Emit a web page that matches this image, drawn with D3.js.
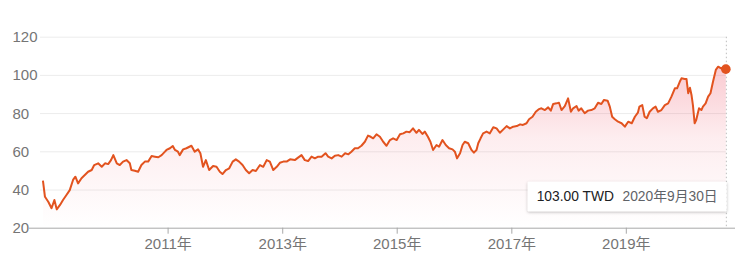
<!DOCTYPE html>
<html><head><meta charset="utf-8">
<script src="https://cdn.jsdelivr.net/npm/d3@7/dist/d3.min.js"></script>
<style>
html,body{margin:0;padding:0;background:#fff;}
svg{display:block;font-family:Arial,"Liberation Sans","Noto Sans CJK SC",sans-serif;}
</style></head>
<body>
<svg id="c" width="740" height="258"></svg>
<script>
const dates = [
"2008-10-28","2008-11-10","2008-12-01","2008-12-22","2009-01-09","2009-01-24","2009-02-14","2009-03-05","2009-03-27","2009-04-17",
"2009-05-08","2009-05-23","2009-06-09","2009-07-01","2009-07-22","2009-08-12","2009-09-04","2009-09-20","2009-10-15","2009-11-07",
"2009-11-28","2009-12-18","2010-01-05","2010-01-20","2010-02-11","2010-03-02","2010-03-23","2010-04-14","2010-05-05","2010-05-15",
"2010-06-06","2010-06-27","2010-07-18","2010-08-09","2010-08-30","2010-09-21","2010-10-12","2010-11-03","2010-11-24","2010-12-15",
"2010-12-25","2011-01-16","2011-02-03","2011-02-17","2011-03-08","2011-03-19","2011-04-10","2011-05-01","2011-06-02","2011-06-23",
"2011-07-14","2011-07-29","2011-08-15","2011-09-02","2011-09-23","2011-10-18","2011-11-09","2011-11-30","2011-12-17","2012-01-08",
"2012-01-29","2012-02-20","2012-03-11","2012-04-01","2012-04-23","2012-05-14","2012-06-04","2012-06-26","2012-07-17","2012-08-12",
"2012-09-02","2012-09-24","2012-10-14","2012-11-05","2012-11-27","2012-12-17","2013-01-08","2013-01-29","2013-02-20","2013-03-22",
"2013-04-12","2013-05-04","2013-05-25","2013-06-15","2013-07-07","2013-07-28","2013-08-18","2013-09-09","2013-10-04","2013-10-21",
"2013-11-12","2013-12-03","2013-12-24","2014-01-15","2014-02-06","2014-02-27","2014-03-18","2014-04-09","2014-04-29","2014-05-21",
"2014-06-12","2014-07-02","2014-07-19","2014-08-04","2014-08-25","2014-09-16","2014-10-07","2014-10-28","2014-11-19","2014-12-09",
"2015-01-01","2015-01-22","2015-02-12","2015-03-04","2015-03-25","2015-04-15","2015-05-07","2015-05-23","2015-06-14","2015-06-29",
"2015-07-19","2015-08-04","2015-08-21","2015-09-12","2015-09-28","2015-10-20","2015-11-10","2015-12-01","2015-12-23","2016-01-07",
"2016-01-21","2016-02-09","2016-02-25","2016-03-10","2016-04-01","2016-04-22","2016-05-07","2016-05-24","2016-06-04","2016-06-19",
"2016-07-05","2016-07-27","2016-08-17","2016-09-08","2016-09-29","2016-10-20","2016-11-11","2016-12-02","2016-12-23","2017-01-13",
"2017-02-05","2017-02-26","2017-03-16","2017-04-08","2017-04-24","2017-05-16","2017-06-06","2017-06-27","2017-07-12","2017-08-03",
"2017-08-24","2017-09-10","2017-09-25","2017-10-16","2017-11-01","2017-11-17","2017-12-08","2017-12-29","2018-01-16","2018-01-30",
"2018-02-21","2018-03-06","2018-03-23","2018-04-14","2018-05-05","2018-05-26","2018-06-17","2018-07-08","2018-07-29","2018-08-15",
"2018-09-07","2018-09-21","2018-10-06","2018-10-23","2018-11-13","2018-12-05","2018-12-26","2019-01-16","2019-02-08","2019-02-28",
"2019-03-19","2019-03-29","2019-04-16","2019-05-01","2019-05-15","2019-06-02","2019-06-23","2019-07-10","2019-07-25","2019-08-16",
"2019-09-07","2019-09-28","2019-10-19","2019-11-10","2019-11-24","2019-12-11","2019-12-22","2020-01-12","2020-01-23","2020-02-03",
"2020-02-14","2020-02-24","2020-03-04","2020-03-15","2020-03-25","2020-04-12","2020-04-27","2020-05-07","2020-05-24","2020-06-09",
"2020-06-24","2020-07-10","2020-07-28","2020-08-12","2020-08-28","2020-09-15","2020-09-30"
];
const prices = [
44.6,36.2,33.6,30.2,34.5,29.6,31.9,34.5,37.1,39.7,
45.0,46.7,43.2,45.9,47.6,49.3,50.2,52.8,53.7,51.9,
53.7,53.3,55.4,58.0,53.7,52.8,54.6,55.4,53.7,50.2,
49.8,49.3,52.8,54.6,54.6,57.5,57.2,56.9,58.0,59.8,
60.7,61.6,62.8,60.7,59.8,58.0,61.0,61.6,62.9,59.8,
61.0,59.0,51.9,55.4,50.2,52.3,51.9,49.3,48.1,50.2,
51.1,54.6,55.8,54.6,52.8,50.2,48.5,50.2,49.7,52.8,
51.9,55.4,54.6,50.2,51.9,54.0,54.6,54.6,55.8,55.4,
56.7,58.0,55.4,54.9,57.2,56.3,57.2,57.2,59.0,57.2,
56.3,57.7,58.0,57.2,59.0,58.4,59.8,61.6,61.6,62.9,
65.0,68.2,67.6,66.8,68.9,67.6,65.0,62.9,65.9,66.8,
65.9,68.9,69.4,70.3,70.0,72.0,69.7,71.2,69.1,70.3,
67.6,65.0,60.7,63.3,62.4,65.9,63.3,61.6,61.0,59.8,
56.3,59.0,63.3,65.0,64.2,60.7,59.3,60.7,64.2,66.8,
69.4,70.3,69.4,72.6,72.0,69.7,71.5,73.2,72.0,72.9,
73.2,74.1,73.8,74.7,76.8,78.1,80.7,82.1,82.5,81.6,
83.0,81.3,84.8,85.1,85.4,81.6,83.7,87.7,80.7,82.5,
83.7,81.3,82.5,79.9,81.3,81.6,82.5,85.4,84.8,86.9,
86.5,83.4,78.1,76.8,75.5,74.7,72.9,75.5,74.7,78.1,
80.2,83.4,84.2,78.1,77.3,80.7,82.5,83.4,80.7,81.6,
84.2,85.1,88.6,93.0,93.0,96.4,98.2,97.9,97.9,90.4,
93.3,89.5,84.2,74.7,76.4,82.5,81.6,83.4,85.1,88.6,
90.4,96.4,102.6,104.3,103.5,103.8,103.0
];
const yTicks = [20,40,60,80,100,120];
const xTickYears = [2011,2013,2015,2017,2019];
const tooltipValue = "103.00 TWD";
const tooltipDate = "2020年9月30日";

const parse = d3.timeParse("%Y-%m-%d");
const data = dates.map((d,i)=>({date:parse(d), v:prices[i]}));

const svg = d3.select("#c");
const lineColor = "#e2531f";

const x = d3.scaleTime()
  .domain([new Date(2011,0,1), new Date(2019,0,1)])
  .range([167.6, 625.8]);
const y = d3.scaleLinear().domain([20,120]).range([227.7,36.7]);

// gradient
const defs = svg.append("defs");
const grad = defs.append("linearGradient").attr("id","g")
  .attr("gradientUnits","userSpaceOnUse")
  .attr("x1",0).attr("x2",0).attr("y1",y(105)).attr("y2",y(20));
grad.append("stop").attr("offset","0%").attr("stop-color","#ee4d62").attr("stop-opacity",0.3);
grad.append("stop").attr("offset","45%").attr("stop-color","#ee4d62").attr("stop-opacity",0.1);
grad.append("stop").attr("offset","100%").attr("stop-color","#ee4d62").attr("stop-opacity",0);
const f = defs.append("filter").attr("id","sh").attr("x","-10%").attr("y","-30%").attr("width","120%").attr("height","180%");
f.append("feDropShadow").attr("dx",0).attr("dy",1).attr("stdDeviation",1.6).attr("flood-color","#000").attr("flood-opacity",0.28);

const lastX = x(data[data.length-1].date);

// grid lines
svg.append("g").selectAll("line").data(yTicks.filter(t=>t>20)).join("line")
  .attr("x1",40).attr("x2",lastX).attr("y1",d=>y(d)+0.5).attr("y2",d=>y(d)+0.5)
  .attr("stroke","#ececec").attr("stroke-width",1);

// y labels
svg.append("g").selectAll("text").data(yTicks).join("text")
  .attr("x",12.5).attr("y",d=>y(d)+5.5)
  .attr("font-size","15px").attr("fill","#757575").text(d=>d);

// area
const area = d3.area().x(d=>x(d.date)).y0(y(20)).y1(d=>y(d.v)).curve(d3.curveLinear);
svg.append("path").datum(data).attr("d",area).attr("fill","url(#g)");

// dotted vertical line
svg.append("line").attr("x1",lastX+0.5).attr("x2",lastX+0.5).attr("y1",y(120)).attr("y2",y(20))
  .attr("stroke","#bdbdbd").attr("stroke-width",1).attr("stroke-dasharray","1.5,2.5");

// x axis
const xAxis = d3.axisBottom(x)
  .tickValues(xTickYears.map(yy=>new Date(yy,0,1)))
  .tickSize(6).tickSizeOuter(0)
  .tickFormat(d=>d.getFullYear()+"年");
const gx = svg.append("g").attr("transform",`translate(0,${y(20)})`).call(xAxis);
gx.select(".domain").remove();
gx.selectAll(".tick line").attr("stroke","#a8a8a8");
gx.selectAll(".tick text").attr("font-size","15px").attr("fill","#757575")
  .attr("font-family",'Arial,"Liberation Sans","Noto Sans CJK SC",sans-serif').attr("dy","0").attr("y",21.5);
svg.append("line").attr("x1",29).attr("x2",735).attr("y1",y(20)+0.5).attr("y2",y(20)+0.5)
  .attr("stroke","#a8a8a8").attr("stroke-width",1);

// line
const line = d3.line().x(d=>x(d.date)).y(d=>y(d.v));
svg.append("path").datum(data).attr("d",line).attr("fill","none")
  .attr("stroke",lineColor).attr("stroke-width",2).attr("stroke-linejoin","round");

// end dot
const last = data[data.length-1];
svg.append("circle").attr("cx",x(last.date)).attr("cy",y(last.v)).attr("r",4.8).attr("fill",lineColor);

// tooltip
const tg = svg.append("g");
tg.append("rect").attr("x",527.7).attr("y",181.7).attr("width",199).attr("height",29.5)
  .attr("fill","#fff").attr("rx",1).attr("filter","url(#sh)");
tg.append("text").attr("x",536.7).attr("y",200.6).attr("font-size","13.8px").attr("fill","#202124").text(tooltipValue);
tg.append("text").attr("x",622.5).attr("y",200.6).attr("font-size","13.8px").attr("fill","#5f6368").text(tooltipDate);
</script>
</body></html>
